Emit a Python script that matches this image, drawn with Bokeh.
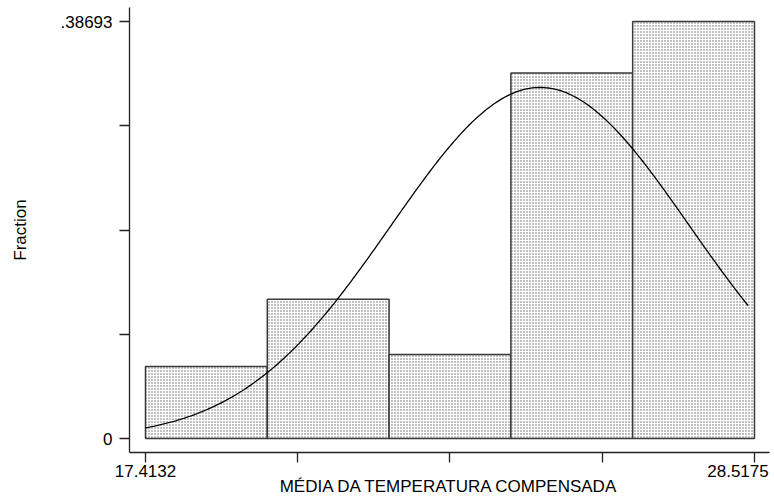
import numpy as np
from bokeh.plotting import figure
from bokeh.models import Range1d, FixedTicker
from bokeh.embed import file_html
from bokeh.resources import INLINE

# ---- data ----
bin_left = [17.4132, 19.63406, 21.85492, 24.07578, 26.29664]
bin_right = [19.63406, 21.85492, 24.07578, 26.29664, 28.5175]
fractions = [0.0667, 0.1293, 0.0779, 0.3392, 0.38693]
x_ticks = [17.4132, 20.1893, 22.9653, 25.7414, 28.5175]
x_label_anchor = [17.4132, 28.2168]      # centres of the two x tick labels
x_label_text = ["17.4132", "28.5175"]
y_ticks = [0.0, 0.0967325, 0.193465, 0.290198, 0.38693]
y_tick_text = ["0", "", "", "", ".38693"]
norm_mean = 24.61
norm_sd = 2.72
bin_width = 2.22086
curve_start = 17.4132
curve_end = 28.40

FONT = "Liberation Sans"
FS = "17px"
AX = "#222222"

p = figure(width=772, height=503, output_backend="svg", toolbar_location=None,
           x_range=Range1d(17.1215, 28.7915), y_range=Range1d(-0.01299, 0.39993),
           min_border_left=129, min_border_right=3, min_border_top=7, min_border_bottom=51)
p.outline_line_color = None
p.xgrid.visible = False
p.ygrid.visible = False
p.background_fill_color = "white"
p.border_fill_color = "white"

p.quad(left=bin_left, right=bin_right, bottom=0, top=fractions,
       fill_color="white", line_color="#3a3a3a", line_width=1.5,
       hatch_pattern="dot", hatch_scale=3, hatch_color="#666666", hatch_weight=1)

xs = np.linspace(curve_start, curve_end, 300)
ys = bin_width * np.exp(-0.5 * ((xs - norm_mean) / norm_sd) ** 2) / (norm_sd * np.sqrt(2 * np.pi))
p.line(xs, ys, line_color="black", line_width=1.3)

# axes
for ax in (p.xaxis[0], p.yaxis[0]):
    ax.axis_line_color = AX
    ax.axis_line_width = 1.3
    ax.major_tick_line_color = AX
    ax.major_tick_line_width = 1.3
    ax.minor_tick_line_color = AX
    ax.minor_tick_line_width = 1.3
    ax.major_label_text_font = FONT
    ax.major_label_text_font_size = FS
    ax.major_label_text_color = "black"
    ax.axis_label_text_font = FONT
    ax.axis_label_text_font_size = FS
    ax.axis_label_text_font_style = "normal"
    ax.axis_label_text_color = "black"

# x axis: visible tick marks are the "minor" ticks, labels sit on invisible major ticks
xa = p.xaxis[0]
xa.ticker = FixedTicker(ticks=x_label_anchor, minor_ticks=x_ticks)
xa.major_label_overrides = {t: s for t, s in zip(x_label_anchor, x_label_text)}
xa.major_tick_out = 0
xa.major_tick_in = 0
xa.minor_tick_out = 10
xa.minor_tick_in = 0
xa.major_label_standoff = 2
xa.axis_label = "MÉDIA DA TEMPERATURA COMPENSADA"
xa.axis_label_standoff = -3

ya = p.yaxis[0]
ya.ticker = FixedTicker(ticks=y_ticks)
ya.major_label_overrides = {t: s for t, s in zip(y_ticks, y_tick_text)}
ya.major_tick_out = 10
ya.major_tick_in = 0
ya.minor_tick_out = 0
ya.minor_tick_in = 0
ya.major_label_standoff = 7
ya.axis_label = "Fraction"
ya.axis_label_standoff = 28

open("out.html", "w").write(file_html(p, INLINE))
